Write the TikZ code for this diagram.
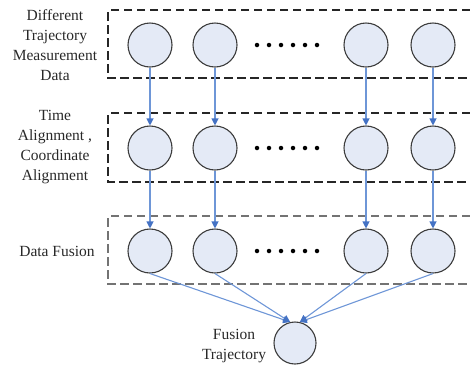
\documentclass[tikz,border=0pt]{standalone}
\usepackage{fontspec}
\setmainfont{Liberation Serif}
\usetikzlibrary{arrows.meta}
\definecolor{cfill}{RGB}{228,234,246}
\definecolor{cedge}{RGB}{60,60,60}
\definecolor{arr}{RGB}{110,150,215}
\definecolor{arrh}{RGB}{68,114,196}
\definecolor{txt}{RGB}{40,40,40}
\begin{document}
\begin{tikzpicture}[x=1pt,y=-1pt,
  circ/.style={circle,draw=cedge,line width=1.1pt,fill=cfill,minimum size=44pt,inner sep=0pt},
  conn/.style={draw=arr,line width=1.1pt,-{Triangle[length=7pt,width=7pt,fill=arrh,color=arrh]}},
  lab/.style={align=center,font=\fontsize{15.5}{20}\selectfont,text=txt,inner sep=0pt},
  boxa/.style={dashed,dash pattern=on 8.5pt off 4.5pt,line width=1.2pt,draw=black!85},
  boxb/.style={dashed,dash pattern=on 8.5pt off 4.5pt,line width=1.5pt,draw=black!55},
  dotc/.style={circle,fill=black,inner sep=0pt,minimum size=4.5pt}
]
\useasboundingbox (0,0) rectangle (470,368);
% boxes
\draw[boxa] (470,10) -- (108,10) -- (108,78) -- (470,78);
\draw[boxa] (470,113) -- (108,113) -- (108,182) -- (470,182);
\draw[boxb] (470,216) -- (108,216) -- (108,284) -- (470,284);
% circles
\foreach \r/\y in {1/45,2/148,3/251}{
  \node[circ] (c\r1) at (150,\y) {};
  \node[circ] (c\r2) at (215,\y) {};
  \node[circ] (c\r3) at (366,\y) {};
  \node[circ] (c\r4) at (433,\y) {};
  \foreach \i in {0,...,5}{
    \node[dotc] (d\r\i) at (257+12*\i,\y) {};
  }
}
\node[circ,minimum size=42pt] (bot) at (295,343) {};
% labels
\node[lab] (l1) at (55,45) {Different\\Trajectory\\Measurement\\Data};
\node[lab] (l2) at (55,147) {Time\\Alignment ,\\Coordinate\\Alignment};
\node[lab] (l3) at (57,251) {Data Fusion};
\node[lab] (l4) at (234,346) {Fusion\\Trajectory};
% connectors
\foreach \c in {1,2,3,4}{
  \draw[conn] (c1\c.south) -- (c2\c.north);
  \draw[conn] (c2\c.south) -- (c3\c.north);
}
\draw[conn] (c31.south) -- (bot.103);
\draw[conn] (c32.south) -- (bot.103);
\draw[conn] (c33.south) -- (bot.77);
\draw[conn] (c34.south) -- (bot.77);
\end{tikzpicture}
\end{document}
